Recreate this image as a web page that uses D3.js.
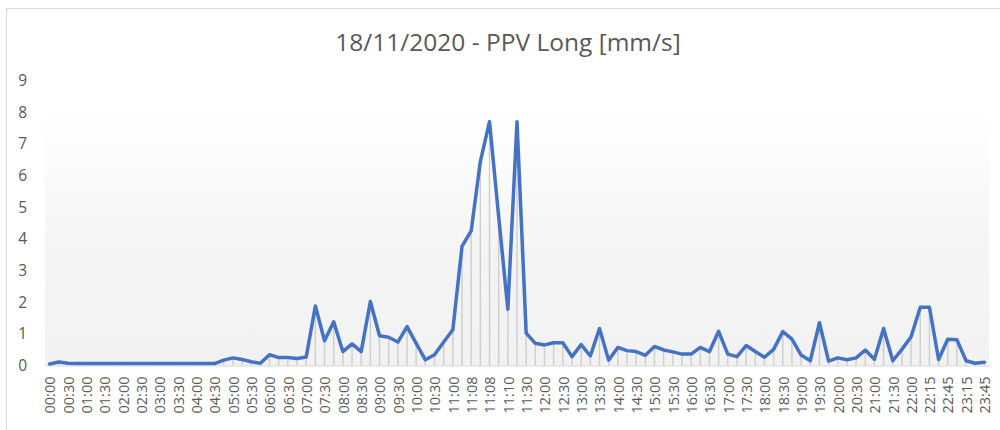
<!DOCTYPE html>
<html>
<head>
<meta charset="utf-8">
<script src="https://cdn.jsdelivr.net/npm/d3@7"></script>
<style>
  html, body { margin: 0; padding: 0; background: #ffffff; }
  svg { display: block; }
</style>
</head>
<body>
<svg id="chart" width="1000" height="430"></svg>
<script>
// Measurement times (categories); only every second one is labelled on the axis
const times = [
  "00:00","00:15","00:30","00:45","01:00","01:15","01:30","01:45","02:00","02:15",
  "02:30","02:45","03:00","03:15","03:30","03:45","04:00","04:15","04:30","04:45",
  "05:00","05:15","05:30","05:45","06:00","06:15","06:30","06:45","07:00","07:15",
  "07:30","07:45","08:00","08:15","08:30","08:45","09:00","09:15","09:30","09:45",
  "10:00","10:15","10:30","10:45","11:00","11:05","11:08","11:08","11:08","11:09",
  "11:10","11:15","11:30","11:45","12:00","12:15","12:30","12:45","13:00","13:15",
  "13:30","13:45","14:00","14:15","14:30","14:45","15:00","15:15","15:30","15:45",
  "16:00","16:15","16:30","16:45","17:00","17:15","17:30","17:45","18:00","18:15",
  "18:30","18:45","19:00","19:15","19:30","19:45","20:00","20:15","20:30","20:45",
  "21:00","21:15","21:30","21:45","22:00","22:08","22:15","22:30","22:45","23:00",
  "23:15","23:30","23:45"
];

// PPV longitudinal component [mm/s]
const ppvLong = [
  0.05,0.11,0.07,0.06,0.06,0.06,0.06,0.06,0.06,0.06,
  0.06,0.06,0.06,0.06,0.06,0.06,0.06,0.06,0.06,0.17,
  0.24,0.19,0.12,0.07,0.34,0.25,0.25,0.22,0.27,1.88,
  0.78,1.38,0.44,0.68,0.44,2.02,0.94,0.89,0.74,1.23,
  0.70,0.18,0.34,0.74,1.13,3.76,4.25,6.44,7.70,4.70,
  1.78,7.70,1.02,0.70,0.65,0.72,0.72,0.28,0.66,0.30,
  1.17,0.17,0.57,0.47,0.44,0.32,0.60,0.49,0.43,0.36,
  0.36,0.57,0.44,1.08,0.36,0.28,0.63,0.44,0.26,0.51,
  1.07,0.83,0.33,0.15,1.35,0.14,0.24,0.18,0.24,0.49,
  0.20,1.17,0.15,0.51,0.91,1.84,1.84,0.19,0.83,0.81,
  0.15,0.07,0.10
];

const yTicks = [0,1,2,3,4,5,6,7,8,9];
const chartTitle = "18/11/2020 - PPV Long [mm/s]";

const svg = d3.select("#chart");
const textColor = "#595959";
const fontFamily = "'Open Sans', 'Noto Sans', sans-serif";

const plot = { left: 45, right: 989, top: 80, bottom: 366 };

// Chart outline
svg.append("rect")
  .attr("x", 6.5).attr("y", 8.5)
  .attr("width", 1000).attr("height", 440)
  .attr("fill", "#ffffff")
  .attr("stroke", "#d9d9d9")
  .attr("stroke-width", 1);

// Plot area background: soft vertical gradient
const defs = svg.append("defs");
const grad = defs.append("linearGradient")
  .attr("id", "plotBg")
  .attr("x1", 0).attr("y1", 0).attr("x2", 0).attr("y2", 1);
grad.append("stop").attr("offset", "0%").attr("stop-color", "#ffffff");
grad.append("stop").attr("offset", "12%").attr("stop-color", "#ffffff");
grad.append("stop").attr("offset", "60%").attr("stop-color", "#f4f4f4");
grad.append("stop").attr("offset", "100%").attr("stop-color", "#f2f2f2");

svg.append("rect")
  .attr("x", plot.left).attr("y", plot.top)
  .attr("width", plot.right - plot.left)
  .attr("height", plot.bottom - plot.top)
  .attr("fill", "url(#plotBg)");

// Scales
const idx = d3.range(times.length);
const x = d3.scalePoint()
  .domain(idx)
  .range([plot.left, plot.right])
  .padding(0.5);

const y = d3.scaleLinear()
  .domain([0, 9])
  .range([365.5, 80.5]);

// Title
svg.append("text")
  .attr("x", 508)
  .attr("y", 51)
  .attr("text-anchor", "middle")
  .attr("fill", textColor)
  .attr("font-family", fontFamily)
  .attr("font-size", 24.5)
  .text(chartTitle);

// Drop lines from each point to the axis
svg.append("g")
  .selectAll("line")
  .data(ppvLong)
  .join("line")
  .attr("x1", (d, i) => x(i))
  .attr("x2", (d, i) => x(i))
  .attr("y1", d => y(d))
  .attr("y2", y(0))
  .attr("stroke", "#d0d0d0")
  .attr("stroke-width", 1.5);

// Horizontal category axis
const xAxis = d3.axisBottom(x)
  .tickValues(idx.filter(i => i % 2 === 0))
  .tickFormat(i => times[i])
  .tickSize(0);

const gx = svg.append("g")
  .attr("transform", `translate(0,${y(0)})`)
  .call(xAxis);
gx.select(".domain")
  .attr("stroke", "#d9d9d9")
  .attr("stroke-width", 1.2);
gx.selectAll("text")
  .attr("transform", "rotate(-90)")
  .attr("x", -11)
  .attr("y", 0)
  .attr("dy", "0.36em")
  .attr("text-anchor", "end")
  .attr("fill", textColor)
  .attr("font-family", fontFamily)
  .attr("font-size", 14.5);

// Vertical value axis (labels only)
const yAxis = d3.axisLeft(y)
  .tickValues(yTicks)
  .tickFormat(d3.format("d"))
  .tickSize(0);

const gy = svg.append("g")
  .attr("transform", `translate(${plot.left},0)`)
  .call(yAxis);
gy.select(".domain").remove();
gy.selectAll("text")
  .attr("x", -18)
  .attr("fill", textColor)
  .attr("font-family", fontFamily)
  .attr("font-size", 15.5);
gx.attr("font-family", null);
gy.attr("font-family", null);

// Data line
const line = d3.line()
  .x((d, i) => x(i))
  .y(d => y(d));

svg.append("path")
  .datum(ppvLong)
  .attr("d", line)
  .attr("fill", "none")
  .attr("stroke", "#4472c4")
  .attr("stroke-width", 3.5)
  .attr("stroke-linejoin", "round")
  .attr("stroke-linecap", "round");
</script>
</body>
</html>
